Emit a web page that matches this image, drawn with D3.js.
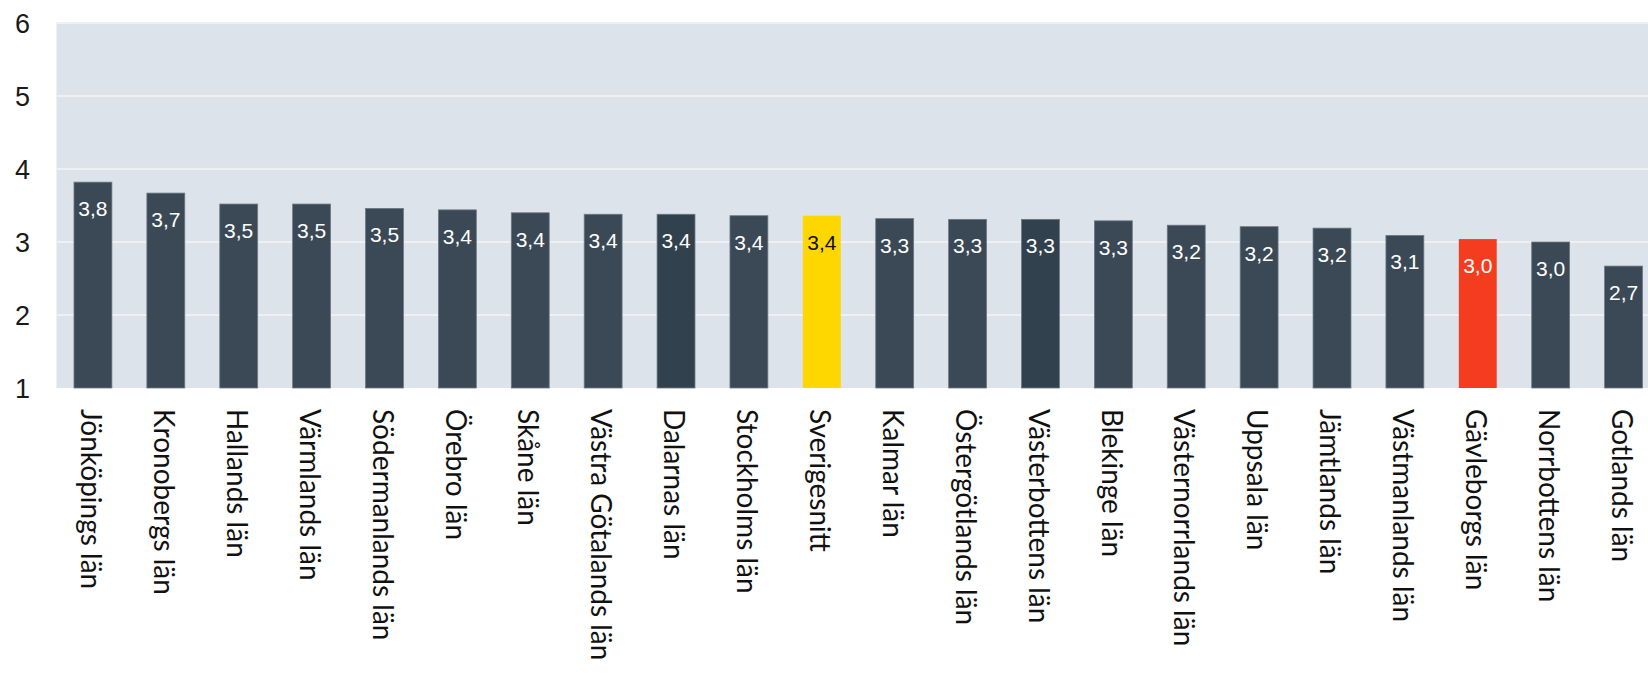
<!DOCTYPE html>
<html lang="sv">
<head>
    <meta charset="utf-8">
    <title>Län – stapeldiagram</title>
    <script src="https://d3js.org/d3.v7.min.js"></script>
    <style>
        body {
            margin: 0;
            padding: 0;
            background: #fff;
            overflow: hidden;
        }
        .ytick { font-family: 'Liberation Sans', Arial, sans-serif; font-size: 27px; fill: #1a1a1a; }
        .val { font-family: 'Liberation Sans', Arial, sans-serif; font-size: 21px; }
        .cat { font-family: Lato, 'Open Sans', sans-serif; font-size: 28px; fill: #111; }
    </style>
</head>
<body>
<div id="chart"></div>
<script>
    // Data
    var regions = ["Jönköpings län", "Kronobergs län", "Hallands län", "Värmlands län", "Södermanlands län",
        "Örebro län", "Skåne län", "Västra Götalands län", "Dalarnas län", "Stockholms län", "Sverigesnitt",
        "Kalmar län", "Östergötlands län", "Västerbottens län", "Blekinge län", "Västernorrlands län",
        "Uppsala län", "Jämtlands län", "Västmanlands län", "Gävleborgs län", "Norrbottens län", "Gotlands län"];
    var values = [3.82, 3.67, 3.52, 3.52, 3.46, 3.44, 3.40, 3.38, 3.38, 3.36, 3.36,
        3.32, 3.31, 3.31, 3.29, 3.23, 3.21, 3.19, 3.09, 3.04, 3.00, 2.67];
    var yTicks = [1, 2, 3, 4, 5, 6];
    var highlightAvg = "Sverigesnitt";
    var highlightRed = "Gävleborgs län";
    var darker = ["Dalarnas län", "Västerbottens län"];

    var width = 1648, height = 676;

    var svg = d3.select("#chart").append("svg")
        .attr("width", width)
        .attr("height", height);

    var x = d3.scaleBand()
        .domain(regions)
        .range([56.5, 1660])
        .paddingInner(0.48)
        .paddingOuter(0.24);

    var y = d3.scaleLinear()
        .domain([1, 6])
        .range([388, 23]);

    var sv = d3.formatLocale({decimal: ",", thousands: " ", grouping: [3], currency: ["", " kr"]});
    var fmt = sv.format(".1f");

    // plot background
    svg.append("rect")
        .attr("x", 56.5)
        .attr("y", y(6))
        .attr("width", width - 56.5)
        .attr("height", y(1) - y(6))
        .attr("fill", "#dde3ea");

    // gridlines
    svg.append("g")
        .selectAll("line")
        .data(yTicks.slice(1))
        .enter().append("line")
        .attr("x1", 56.5)
        .attr("x2", width)
        .attr("y1", function(d) { return y(d); })
        .attr("y2", function(d) { return y(d); })
        .attr("stroke", "#eef1f4")
        .attr("stroke-width", 2);

    // y tick labels
    svg.append("g")
        .selectAll("text")
        .data(yTicks)
        .enter().append("text")
        .attr("class", "ytick")
        .attr("x", 30)
        .attr("y", function(d) { return y(d); })
        .attr("dy", "0.36em")
        .attr("text-anchor", "end")
        .text(function(d) { return d; });

    var data = regions.map(function(r, i) { return {name: r, value: values[i]}; });

    function barColor(d) {
        if (d.name === highlightAvg) return "#fed700";
        if (d.name === highlightRed) return "#f43d1f";
        if (darker.indexOf(d.name) >= 0) return "#32414e";
        return "#3b4956";
    }

    // bars
    svg.append("g")
        .selectAll("rect")
        .data(data)
        .enter().append("rect")
        .attr("x", function(d) { return x(d.name); })
        .attr("y", function(d) { return y(d.value); })
        .attr("width", x.bandwidth())
        .attr("height", function(d) { return y(1) - y(d.value); })
        .attr("fill", barColor)
        .attr("stroke", function(d) { return d.name === highlightAvg || d.name === highlightRed ? "none" : "#6d7884"; })
        .attr("stroke-width", 0.8);

    // value labels
    svg.append("g")
        .selectAll("text")
        .data(data)
        .enter().append("text")
        .attr("class", "val")
        .attr("x", function(d) { return x(d.name) + x.bandwidth() / 2; })
        .attr("y", function(d) { return y(d.value) + 34; })
        .attr("text-anchor", "middle")
        .attr("fill", function(d) { return d.name === highlightAvg ? "#111" : "#fff"; })
        .text(function(d) { return fmt(d.value); });

    // category labels, rotated
    svg.append("g")
        .selectAll("text")
        .data(data)
        .enter().append("text")
        .attr("class", "cat")
        .attr("transform", function(d) {
            return "translate(" + (x(d.name) + x.bandwidth() / 2 - 2) + "," + 409 + ") rotate(90)";
        })
        .attr("dy", "0.35em")
        .attr("text-anchor", "start")
        .text(function(d) { return d.name; });
</script>
</body>
</html>
